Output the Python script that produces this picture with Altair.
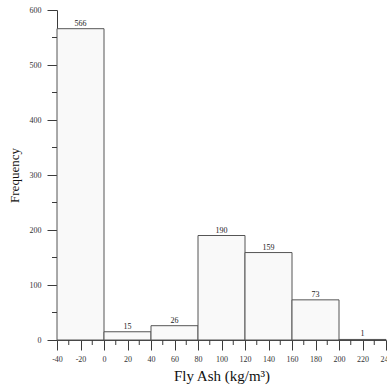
import altair as alt
import pandas as pd

# Histogram bins (kg/m3) and counts
bin_start = [-40, 0, 40, 80, 120, 160, 200]
bin_end = [0, 40, 80, 120, 160, 200, 240]
counts = [566, 15, 26, 190, 159, 73, 1]

x_major = [-40, -20, 0, 20, 40, 60, 80, 100, 120, 140, 160, 180, 200, 220, 240]
x_minor = [-30, -10, 10, 30, 50, 70, 90, 110, 130, 150, 170, 190, 210, 230]
y_major = [0, 100, 200, 300, 400, 500, 600]
y_minor = [50, 150, 250, 350, 450, 550]

bars_df = pd.DataFrame({"start": bin_start, "end": bin_end, "count": counts})
bars_df["mid"] = (bars_df["start"] + bars_df["end"]) / 2

FONT = "Liberation Serif"
AXIS_COLOR = "#3a3a3a"

x_scale = alt.Scale(domain=[-40, 240], nice=False, zero=False)
y_scale = alt.Scale(domain=[0, 600], nice=False)

x_axis = alt.Axis(
    values=x_major, title="Fly Ash (kg/m³)", titleFont=FONT, titleFontSize=15,
    titleFontWeight="normal", titleColor="#111", titlePadding=5,
    labelFont=FONT, labelFontSize=8, labelColor="#333", labelPadding=5,
    labelExpr="'' + datum.value",
    tickSize=10, tickColor=AXIS_COLOR, domainColor=AXIS_COLOR, grid=False,
    labelFlush=False, labelOverlap=False, labelBound=False,
)
y_axis = alt.Axis(
    values=y_major, title="Frequency", titleFont=FONT, titleFontSize=13,
    titleFontWeight="normal", titleColor="#111", titlePadding=8,
    labelFont=FONT, labelFontSize=8, labelColor="#333", labelPadding=6,
    tickSize=10, tickColor=AXIS_COLOR, domainColor=AXIS_COLOR, grid=False,
    labelOverlap=False,
)

bars = alt.Chart(bars_df).mark_rect(
    fill="#f9f9f9", stroke="#555555", strokeWidth=1
).encode(
    x=alt.X("start:Q", scale=x_scale, axis=x_axis),
    x2="end:Q",
    y=alt.Y("count:Q", scale=y_scale, axis=y_axis),
    y2=alt.datum(0),
)

labels = alt.Chart(bars_df).mark_text(
    font=FONT, fontSize=8, color="#222", baseline="bottom", dy=-1
).encode(
    x=alt.X("mid:Q", scale=x_scale, axis=x_axis),
    y=alt.Y("count:Q", scale=y_scale, axis=y_axis),
    text="count:Q",
)

# Minor ticks on both axes
xminor = alt.Chart(pd.DataFrame({"v": x_minor})).mark_rule(
    color=AXIS_COLOR, strokeWidth=1
).encode(
    x=alt.X("v:Q", scale=x_scale, axis=x_axis),
    y=alt.value(330), y2=alt.value(335),
)
yminor = alt.Chart(pd.DataFrame({"v": y_minor})).mark_rule(
    color=AXIS_COLOR, strokeWidth=1
).encode(
    y=alt.Y("v:Q", scale=y_scale, axis=y_axis),
    x=alt.value(-5), x2=alt.value(0),
)

chart = alt.layer(bars, labels, xminor, yminor).properties(
    width=329, height=330,
    autosize=alt.AutoSizeParams(type="none"),
    padding={"left": 57, "top": 10, "right": 1, "bottom": 47},
    background="white",
).configure_view(stroke=None)

chart.save("out.html", embed_options={"renderer": "svg", "actions": False})
